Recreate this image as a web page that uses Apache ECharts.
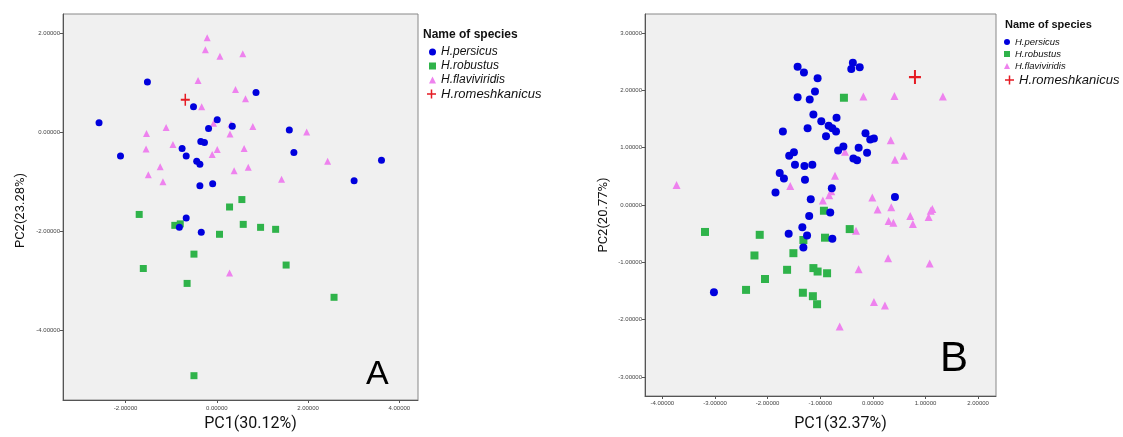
<!DOCTYPE html>
<html>
<head>
<meta charset="utf-8">
<script src="https://cdn.jsdelivr.net/npm/echarts@6/dist/echarts.min.js"></script>
<style>
  html, body { margin: 0; padding: 0; background: #fff; }
  #main { width: 1123px; height: 437px; }
</style>
</head>
<body>
<div id="main"></div>
<script>
// panel A  (PC1 30.12%, PC2 23.28%)
var persicusA = [[-1.52,1.01],[0.86,0.80],[-0.51,0.51],[-2.58,0.19],[0.01,0.25],[0.34,0.12],[-0.18,0.07],
  [1.59,0.04],[-0.35,-0.19],[-0.27,-0.21],[-2.11,-0.48],[-0.76,-0.33],[-0.67,-0.48],[1.69,-0.41],
  [3.61,-0.57],[-0.44,-0.59],[-0.37,-0.65],[3.01,-0.98],[-0.37,-1.08],[-0.09,-1.04],[-0.67,-1.73],
  [-0.82,-1.92],[-0.34,-2.02]];
var robustusA = [[0.55,-1.36],[0.28,-1.51],[-1.70,-1.66],[-0.92,-1.88],[-0.80,-1.85],[0.06,-2.06],
  [0.58,-1.86],[0.96,-1.92],[1.29,-1.96],[-0.50,-2.46],[-1.61,-2.75],[-0.65,-3.05],[1.52,-2.68],
  [2.57,-3.33],[-0.50,-4.91]];
var flaviviridisA = [[-0.21,1.90],[-0.25,1.66],[0.07,1.53],[0.57,1.58],[-0.41,1.04],[0.41,0.86],[0.63,0.67],
  [-0.33,0.51],[-1.11,0.09],[-1.54,-0.03],[-0.07,0.18],[0.31,0.16],[0.29,-0.04],[0.79,0.11],[1.97,0.00],
  [-0.96,-0.25],[-1.55,-0.34],[0.01,-0.35],[-0.10,-0.45],[0.60,-0.33],[-1.24,-0.70],[0.69,-0.71],
  [0.38,-0.78],[2.43,-0.59],[-1.50,-0.86],[-1.18,-1.00],[1.42,-0.95],[0.28,-2.84]];
var romeshkanicusA = [[-0.69,0.65]];

// panel B  (PC1 32.37%, PC2 20.77%)
var persicusB = [[-1.43,2.41],[-1.31,2.31],[-1.05,2.21],[-0.38,2.48],[-0.41,2.37],[-0.25,2.40],[-1.10,1.98],
  [-1.43,1.88],[-1.20,1.84],[-1.13,1.58],[-0.98,1.46],[-0.69,1.52],[-0.84,1.38],[-0.77,1.34],[-0.70,1.28],
  [-1.24,1.34],[-1.71,1.28],[-0.89,1.20],[-0.14,1.25],[-0.05,1.14],[0.02,1.16],[-0.56,1.02],[-0.66,0.95],
  [-0.27,1.00],[-0.11,0.91],[-0.37,0.81],[-0.30,0.78],[-1.50,0.92],[-1.59,0.86],[-1.48,0.70],[-1.30,0.68],
  [-1.15,0.70],[-1.77,0.56],[-1.69,0.46],[-1.29,0.44],[-1.85,0.22],[-0.78,0.29],[0.42,0.14],[-1.18,0.10],
  [-0.81,-0.13],[-1.21,-0.19],[-1.34,-0.39],[-1.60,-0.50],[-1.25,-0.53],[-0.77,-0.59],[-1.32,-0.74],
  [-3.02,-1.52]];
var robustusB = [[-0.55,1.87],[-0.93,-0.10],[-3.19,-0.47],[-2.15,-0.52],[-1.32,-0.61],[-0.91,-0.57],
  [-0.44,-0.42],[-2.25,-0.88],[-1.51,-0.84],[-1.63,-1.13],[-1.13,-1.10],[-1.05,-1.16],[-0.87,-1.19],
  [-2.05,-1.29],[-2.41,-1.48],[-1.33,-1.53],[-1.14,-1.59],[-1.06,-1.73]];
var flaviviridisB = [[-0.18,1.89],[0.41,1.90],[1.33,1.89],[0.34,1.13],[0.59,0.86],[0.42,0.79],[-0.53,0.93],
  [-0.72,0.51],[-3.73,0.35],[-1.57,0.33],[-0.79,0.24],[-0.83,0.17],[-0.95,0.08],[-0.01,0.13],[0.09,-0.08],
  [0.35,-0.04],[0.71,-0.19],[1.06,-0.21],[1.13,-0.07],[1.10,-0.10],[0.30,-0.28],[0.39,-0.31],[0.76,-0.33],
  [-0.32,-0.45],[0.29,-0.93],[1.08,-1.02],[-0.27,-1.12],[0.02,-1.69],[0.23,-1.75],[-0.63,-2.12]];
var romeshkanicusB = [[0.80,2.23]];

var speciesNames = ['H.persicus', 'H.robustus', 'H.flaviviridis', 'H.romeshkanicus'];
var speciesColors = ['#0000dd', '#2fb34a', '#ee82ee', '#e51b23'];
var crossPath = 'path://M5,0h2v5h5v2h-5v5h-2v-5h-5v-2h5z';

var ticksAX = [-2, 0, 2, 4];
var ticksAY = [-4, -2, 0, 2];
var ticksBX = [-4, -3, -2, -1, 0, 1, 2];
var ticksBY = [-3, -2, -1, 0, 1, 2, 3];

var myChart = echarts.init(document.getElementById('main'));

function fmt(v) { return Number(v).toFixed(5); }

function makeAxis(idx, mn, mx, ticks, name, nameGap, pad, margin, fs) {
  return {
    gridIndex: idx, type: 'value', min: mn, max: mx,
    name: name, nameLocation: 'middle', nameGap: nameGap,
    nameTextStyle: { fontFamily: 'Roboto', fontSize: fs, color: '#111', padding: pad },
    axisLine: { show: true, onZero: false, lineStyle: { color: '#555', width: 1 } },
    axisTick: { show: true, length: 3, customValues: ticks, lineStyle: { color: '#555' } },
    axisLabel: { customValues: ticks, formatter: fmt, fontSize: 6, color: '#444', margin: margin },
    splitLine: { show: false }
  };
}

var xAxisA = makeAxis(0, -3.37, 4.41, ticksAX, 'PC1(30.12%)', 16, [0, 0, 0, 20], 5, 16);
var yAxisA = makeAxis(0, -5.40, 2.38, ticksAY, 'PC2(23.28%)', 36, [0, 7, 0, 0], 3, 13);
var xAxisB = makeAxis(1, -4.33, 2.34, ticksBX, 'PC1(32.37%)', 20, [0, 0, 0, 40], 4, 16);
var yAxisB = makeAxis(1, -3.33, 3.33, ticksBY, 'PC2(20.77%)', 35, [0, 20, 0, 0], 3, 13);

function scatter(idx, name, data, symbol, size, color) {
  return {
    type: 'scatter', name: name, xAxisIndex: idx, yAxisIndex: idx,
    data: data, symbol: symbol, symbolSize: size,
    itemStyle: { color: color, opacity: 1 },
    emphasis: { disabled: true }
  };
}

var series = [
  scatter(0, speciesNames[2], flaviviridisA, 'triangle', 7, speciesColors[2]),
  scatter(0, speciesNames[1], robustusA, 'rect', 7, speciesColors[1]),
  scatter(0, speciesNames[0], persicusA, 'circle', 7, speciesColors[0]),
  scatter(0, speciesNames[3], romeshkanicusA, crossPath, [9, 12], speciesColors[3]),
  scatter(1, speciesNames[2], flaviviridisB, 'triangle', 8, speciesColors[2]),
  scatter(1, speciesNames[1], robustusB, 'rect', 8, speciesColors[1]),
  scatter(1, speciesNames[0], persicusB, 'circle', 8, speciesColors[0]),
  scatter(1, speciesNames[3], romeshkanicusB, crossPath, [12, 14], speciesColors[3])
];

function legendBlock(left, top, names, icons, w, h, fs, lh) {
  return {
    orient: 'vertical', left: left, top: top, padding: 0, itemGap: 0,
    itemWidth: w, itemHeight: h, selectedMode: false,
    data: names.map(function (n, i) { return { name: n, icon: icons[i] }; }),
    textStyle: { fontFamily: 'Liberation Sans', fontStyle: 'italic', fontSize: fs, lineHeight: lh, color: '#111' }
  };
}

option = {
  animation: false,
  textStyle: { fontFamily: 'Liberation Sans' },
  color: speciesColors,
  title: [
    { text: 'Name of species', left: 423, top: 29, padding: 0,
      textStyle: { fontSize: 12, fontWeight: 'bold', color: '#111', fontFamily: 'Liberation Sans' } },
    { text: 'Name of species', left: 1005, top: 19, padding: 0,
      textStyle: { fontSize: 11, fontWeight: 'bold', color: '#111', fontFamily: 'Liberation Sans' } },
    { text: 'A', left: 366, top: 358, padding: 0,
      textStyle: { fontSize: 34, fontWeight: 'normal', color: '#000', fontFamily: 'Liberation Sans' } },
    { text: 'B', left: 940, top: 338, padding: 0,
      textStyle: { fontSize: 42, fontWeight: 'normal', color: '#000', fontFamily: 'Liberation Sans' } }
  ],
  legend: [
    legendBlock(429, 45, speciesNames.slice(0, 3), ['circle', 'rect', 'triangle'], 7, 7, 12, 14),
    legendBlock(427, 87, speciesNames.slice(3), [crossPath], 9, 12, 13, 14),
    legendBlock(1004, 36, speciesNames.slice(0, 3), ['circle', 'rect', 'triangle'], 6, 6, 9.5, 12),
    legendBlock(1005, 73, speciesNames.slice(3), [crossPath], 9, 12, 13, 14)
  ],
  grid: [
    { left: 63, top: 14, width: 355, height: 391, show: true,
      backgroundColor: '#f0f0f0', borderColor: '#888', borderWidth: 1 },
    { left: 645, top: 14, width: 351, height: 384, show: true,
      backgroundColor: '#f0f0f0', borderColor: '#888', borderWidth: 1 }
  ],
  xAxis: [xAxisA, xAxisB],
  yAxis: [yAxisA, yAxisB],
  series: series
};

myChart.setOption(option);
</script>
</body>
</html>
